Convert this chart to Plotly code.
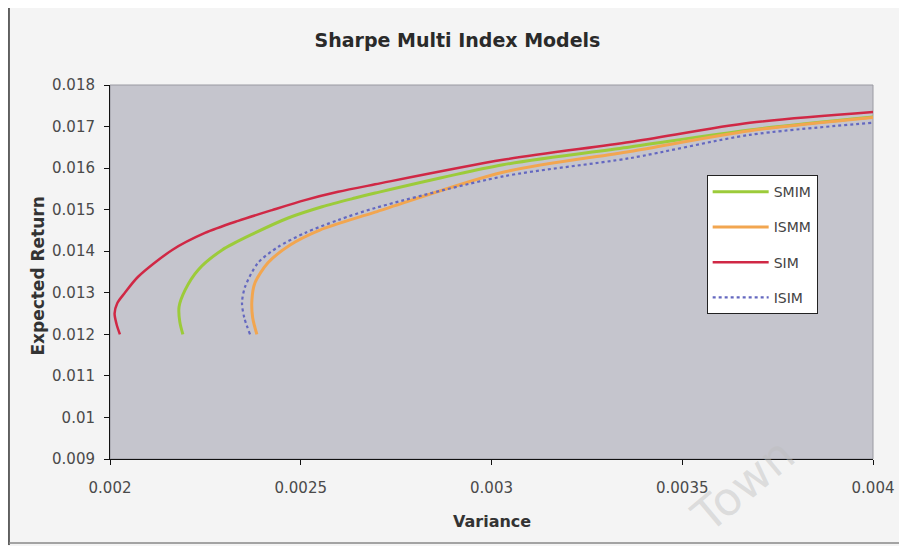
import plotly.graph_objects as go

# ---- data ----
smim_x = [0.002191, 0.002183, 0.002181, 0.002197, 0.002231, 0.002294, 0.002380, 0.002467,
          0.002556, 0.002642, 0.002695, 0.003030, 0.003363, 0.003677, 0.004000]
smim_y = [0.01200, 0.01230, 0.01266, 0.01307, 0.01355, 0.01403, 0.01444, 0.01480,
          0.01507, 0.01528, 0.01540, 0.01608, 0.01651, 0.01692, 0.01723]

ismm_x = [0.002385, 0.002374, 0.002372, 0.002380, 0.002414, 0.002472, 0.002550, 0.002695,
          0.003030, 0.003363, 0.003677, 0.004000]
ismm_y = [0.01200, 0.01240, 0.01283, 0.01324, 0.01372, 0.01415, 0.01451, 0.01494,
          0.01590, 0.01640, 0.01690, 0.01722]

sim_x = [0.002026, 0.002017, 0.002012, 0.002019, 0.002039, 0.002073, 0.002163, 0.002249,
         0.002336, 0.002425, 0.002511, 0.002598, 0.002695, 0.003030, 0.003363, 0.003677, 0.004000]
sim_y = [0.01200, 0.01225, 0.01250, 0.01275, 0.01300, 0.01338, 0.01403, 0.01444,
         0.01473, 0.01499, 0.01523, 0.01543, 0.01561, 0.01620, 0.01663, 0.01709, 0.01735]

isim_x = [0.002367, 0.002352, 0.002346, 0.002354, 0.002388, 0.002440, 0.002511, 0.002598,
          0.002695, 0.003030, 0.003363, 0.003677, 0.004000]
isim_y = [0.01200, 0.01240, 0.01276, 0.01314, 0.01372, 0.01410, 0.01444, 0.01475,
          0.01504, 0.01580, 0.01624, 0.01680, 0.01709]

x_ticks = [0.002, 0.0025, 0.003, 0.0035, 0.004]
x_tick_text = ["0.002", "0.0025", "0.003", "0.0035", "0.004"]
y_ticks = [0.009, 0.010, 0.011, 0.012, 0.013, 0.014, 0.015, 0.016, 0.017, 0.018]
y_tick_text = ["0.009", "0.01", "0.011", "0.012", "0.013", "0.014", "0.015", "0.016", "0.017", "0.018"]

series = [
    ("SMIM", smim_x, smim_y, "#9ccb3a", "solid", 3),
    ("ISMM", ismm_x, ismm_y, "#f2a650", "solid", 3),
    ("SIM", sim_x, sim_y, "#d02845", "solid", 2.5),
    ("ISIM", isim_x, isim_y, "#6468c0", "dot", 2.2),
]

fig = go.Figure()
for name, xs, ys, color, dash, w in series:
    fig.add_trace(go.Scatter(
        x=xs, y=ys, name=name, mode="lines", legendgroup=name,
        line=dict(color=color, width=w, dash=dash, shape="spline", smoothing=0.8),
    ))

font_main = "DejaVu Sans"
# the page places the figure 8px in from the top-left corner
W, H = 899, 538
fig.update_layout(
    width=W, height=H,
    margin=dict(l=102, r=34, t=77, b=87),
    paper_bgcolor="#f4f4f4",
    plot_bgcolor="#c5c5cd",
    title=dict(text="<b>Sharpe Multi Index Models</b>", x=0.5, xanchor="center",
               y=1 - 32 / H, yanchor="middle",
               font=dict(family=font_main, size=19, color="#2a2a2a")),
    showlegend=True,
    legend=dict(x=0.782, y=0.759, xanchor="left", yanchor="top",
                bgcolor="#ffffff", bordercolor="#222222", borderwidth=1,
                font=dict(family=font_main, size=14, color="#444444"),
                itemwidth=56, tracegroupgap=14),
    xaxis=dict(range=[0.002, 0.004], tickvals=x_ticks, ticktext=x_tick_text,
               showgrid=False, zeroline=False, showline=True, linecolor="#111111", linewidth=1,
               ticks="outside", ticklen=5, tickcolor="#111111", ticklabelstandoff=10,
               tickfont=dict(family=font_main, size=15, color="#4a4a4a")),
    yaxis=dict(range=[0.009, 0.018], tickvals=y_ticks, ticktext=y_tick_text,
               showgrid=False, zeroline=False, showline=True, linecolor="#111111", linewidth=1,
               ticks="outside", ticklen=5, tickcolor="#111111", ticklabelstandoff=6,
               tickfont=dict(family=font_main, size=15, color="#4a4a4a")),
    annotations=[
        dict(text="<b>Variance</b>", xref="paper", yref="paper", x=0.5, y=-0.166,
             xanchor="center", yanchor="middle", showarrow=False,
             font=dict(family=font_main, size=16, color="#333333")),
        dict(text="<b>Expected Return</b>", xref="paper", yref="paper", x=-0.0937, y=0.489,
             xanchor="center", yanchor="middle", showarrow=False, textangle=-90,
             font=dict(family=font_main, size=17, color="#333333")),
        dict(text="Town", xref="paper", yref="paper", x=0.83, y=-0.07,
             xanchor="center", yanchor="middle", showarrow=False, textangle=-40,
             font=dict(family=font_main, size=46, color="rgba(190,190,190,0.45)")),
    ],
    shapes=[
        dict(type="rect", xref="paper", yref="paper", x0=0, x1=1, y0=0, y1=1,
             line=dict(color="#9a9aa2", width=1), layer="below"),
        dict(type="line", xref="paper", yref="paper", x0=-0.1324, x1=-0.1324, y0=-0.23, y1=1.3,
             line=dict(color="#333333", width=1.5)),
        dict(type="line", xref="paper", yref="paper", x0=-0.1324, x1=1.1, y0=-0.2246, y1=-0.2246,
             line=dict(color="#888888", width=1.5)),
    ],
)

fig.write_html("out.html")
